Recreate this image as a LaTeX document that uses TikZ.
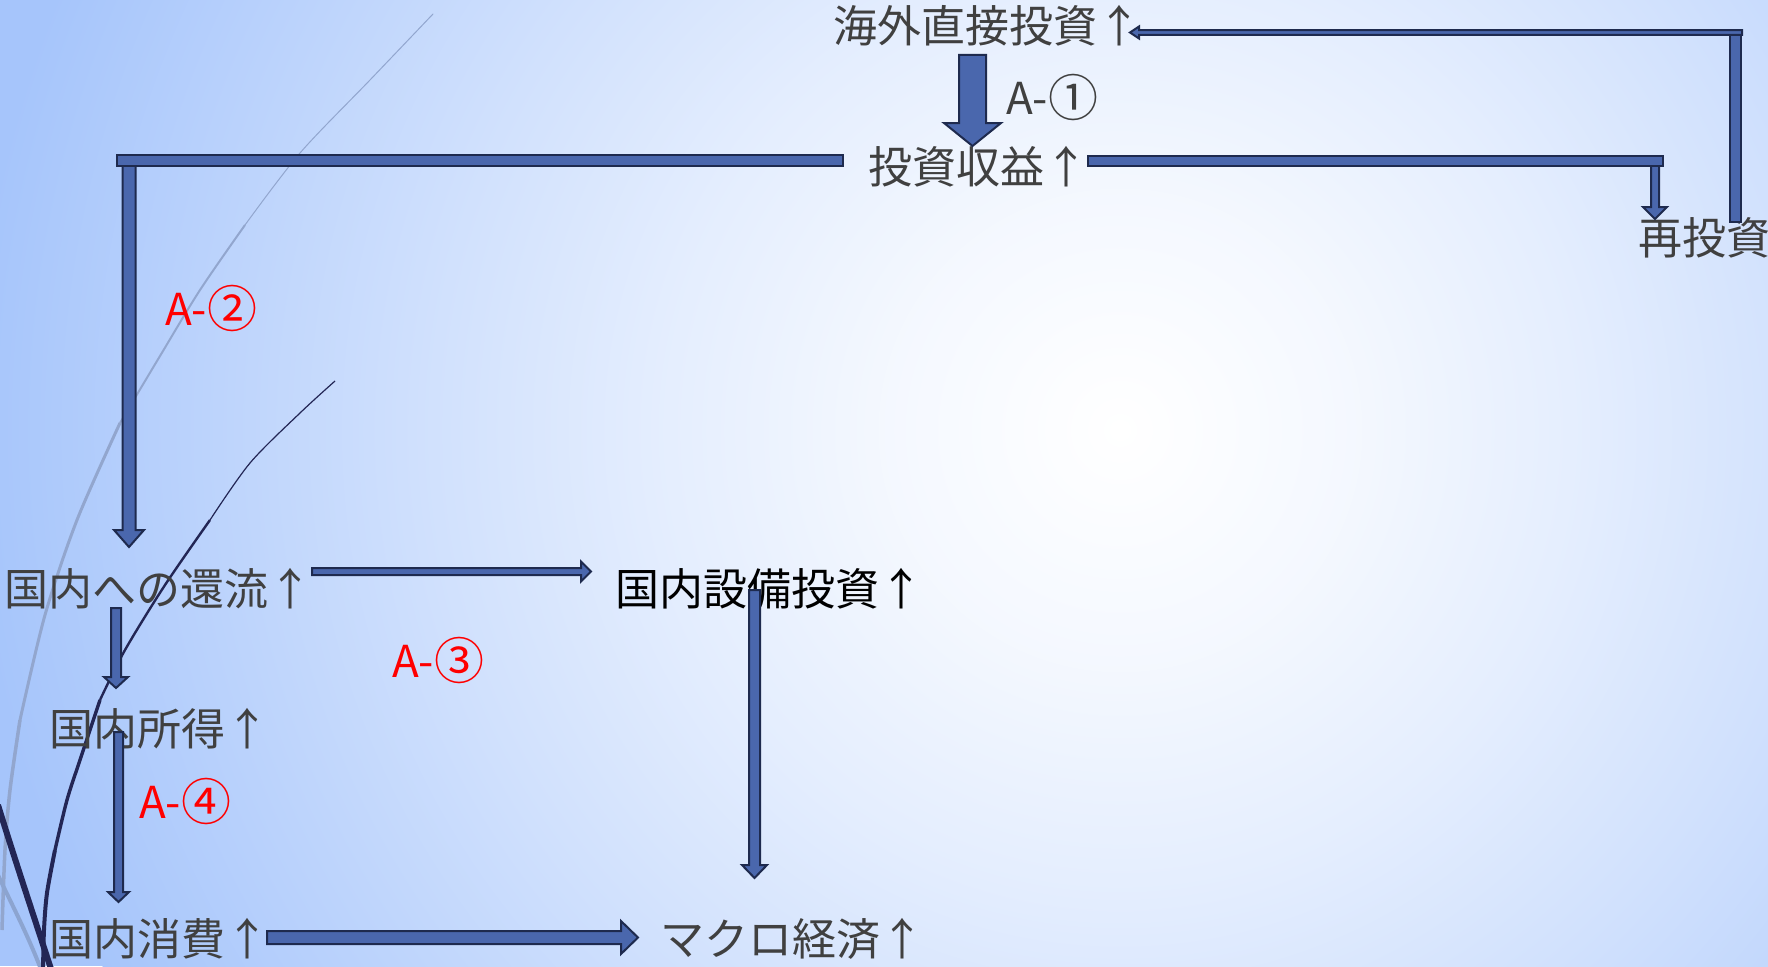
\documentclass[tikz,border=0pt]{standalone}
\usepackage{fontspec}
\newfontfamily\jpfont{Noto Sans CJK JP}
\usetikzlibrary{calc}
\definecolor{bgblue}{RGB}{166,197,251}
\definecolor{arrfill}{RGB}{74,103,173}
\definecolor{arrline}{RGB}{30,42,78}
\definecolor{txtgray}{RGB}{64,64,64}
\definecolor{navyline}{RGB}{35,38,85}
\definecolor{paleA}{RGB}{146,166,206}
\definecolor{paleB}{RGB}{140,164,208}
\pgfdeclareradialshading{bgrad}{\pgfpoint{0bp}{0bp}}{%
  color(0bp)=(white); color(5bp)=(bgblue!12); color(10bp)=(bgblue!30);
  color(15bp)=(bgblue!52); color(20bp)=(bgblue!76); color(25bp)=(bgblue);
  color(50bp)=(bgblue)}
\tikzset{
  blk/.style={fill=arrfill, draw=arrline, line width=2pt, line join=miter},
  txt/.style={font=\jpfont\fontsize{44}{44}\selectfont, text=txtgray, inner sep=0pt,
    anchor=west, text height=38pt, text depth=6pt},
  redlbl/.style={txt, text=red},
}
\newcommand\circd[1]{\raisebox{-2.5pt}{\fontsize{50}{50}\selectfont #1}}
% block arrow: [style]{from}{to}{shaft half}{head half}{head length}
\newcommand\blockarrow[6][]{%
  \path (#2); \pgfgetlastxy{\baX}{\baY}%
  \path (#3); \pgfgetlastxy{\bbX}{\bbY}%
  \pgfmathsetmacro\baAng{atan2(\bbY-\baY,\bbX-\baX)}%
  \pgfmathsetmacro\baLen{veclen(\bbX-\baX,\bbY-\baY)}%
  \begin{scope}[shift={(\baX,\baY)}, rotate=\baAng]
    \filldraw[blk,#1] (0pt,-#4pt) -- (\baLen pt-#6pt,-#4pt) -- (\baLen pt-#6pt,-#5pt)
      -- (\baLen pt,0pt) -- (\baLen pt-#6pt,#5pt) -- (\baLen pt-#6pt,#4pt) -- (0pt,#4pt) -- cycle;
  \end{scope}
}
% bar: {from}{to}{half}
\newcommand\blockbar[3]{%
  \path (#1); \pgfgetlastxy{\baX}{\baY}%
  \path (#2); \pgfgetlastxy{\bbX}{\bbY}%
  \pgfmathsetmacro\baAng{atan2(\bbY-\baY,\bbX-\baX)}%
  \pgfmathsetmacro\baLen{veclen(\bbX-\baX,\bbY-\baY)}%
  \begin{scope}[shift={(\baX,\baY)}, rotate=\baAng]
    \filldraw[blk] (0pt,-#3pt) rectangle (\baLen pt,#3pt);
  \end{scope}
}
\begin{document}
\begin{tikzpicture}[x=1pt,y=-1pt]
\useasboundingbox (0,0) rectangle (1768,966);
% background
\fill[bgblue] (0,0) rectangle (1768,966);
\begin{scope}
  \clip (0,0) rectangle (1768,966);
  \shade[shading=bgrad] (1120,430) circle (1150pt);
\end{scope}
% decorative curves
\draw[paleA, line width=1pt, line cap=round] plot[smooth] coordinates {(433,14) (370,80) (300,153) (245,225)};
\draw[paleA, line width=2pt] plot[smooth] coordinates {(245,225) (200,290) (160,356) (120,423)};
\draw[paleA, line width=3pt] plot[smooth] coordinates {(120,423) (77,520) (45,615) (20,720)};
\draw[paleA, line width=3.5pt] plot[smooth] coordinates {(20,720) (10,790) (5,850) (2,930)};
\draw[paleB, line width=4pt] (-2,875) .. controls (12,905) and (28,935) .. (42,972);
\draw[navyline, line width=1.2pt] plot[smooth] coordinates {(335,381) (300,413) (250,463) (210,520)};
\draw[navyline, line width=2.4pt] plot[smooth] coordinates {(210,520) (165,585) (125,650) (100,700)};
\draw[navyline, line width=3.4pt] plot[smooth] coordinates {(100,700) (80,760) (67,800) (55,850)};
\draw[navyline, line width=4pt] plot[smooth] coordinates {(55,850) (47,893) (44,930) (43,972)};
\draw[navyline, line width=6pt] (-2,805) .. controls (15,860) and (35,920) .. (52,972);
% texts
\node[txt] (n1) at (833,26) {海外直接投資↑};
\node[txt] (n2) at (868,167) {投資収益↑};
\node[txt] (n3) at (1638,238) {再投資};
\node[txt] (n4) at (4,589) {国内への還流↑};
\node[txt, text=black] (n5) at (615,589) {国内設備投資↑};
\node[txt] (n6) at (49,729) {国内所得↑};
\node[txt] (n7) at (49,939) {国内消費↑};
\node[txt] (n8) at (660,939) {マクロ経済↑};
\node[txt] (l1) at (1006,98) {A-\circd{①}};
\node[redlbl] (l2) at (165,309) {A-\circd{②}};
\node[redlbl] (l3) at (392,661) {A-\circd{③}};
\node[redlbl] (l4) at (139,802) {A-\circd{④}};
% connector points
\coordinate (a1s) at (972.5,55);   \coordinate (a1e) at (972.5,146);
\coordinate (a2h) at (843,160.5);  \coordinate (a2c) at (117,160.5);
\coordinate (a2s) at (129,162);    \coordinate (a2e) at (129,547);
\coordinate (a3h) at (1088,160.5); \coordinate (a3c) at (1663,160.5);
\coordinate (a3s) at (1655,162);   \coordinate (a3e) at (1655,219);
\coordinate (a4s) at (1735.5,222); \coordinate (a4c) at (1735.5,34);
\coordinate (a4h) at (1742,32.5);  \coordinate (a4e) at (1130,32.5);
\coordinate (a5s) at (116,608);    \coordinate (a5e) at (116,688);
\coordinate (a6s) at (312,571.5);  \coordinate (a6e) at (591,571.5);
\coordinate (a7s) at (754.5,590);  \coordinate (a7e) at (754.5,878);
\coordinate (a8s) at (118.5,732);  \coordinate (a8e) at (118.5,902);
\coordinate (a9s) at (267,937.5);  \coordinate (a9e) at (638,937.5);
% connectors
\blockarrow{a1s}{a1e}{13.5}{28.5}{23}        % n1 -> n2
\blockarrow{a2s}{a2e}{6.5}{15}{17}           % n2 -> n4
\blockbar{a2h}{a2c}{5.5}
\blockarrow{a3s}{a3e}{4}{12}{12}             % n2 -> n3
\blockbar{a3h}{a3c}{5}
\blockbar{a4s}{a4c}{5.5}                     % n3 -> n1
\blockarrow{a4h}{a4e}{2.4}{6}{9}
\blockarrow{a5s}{a5e}{5}{12}{11}             % n4 -> n6
\blockarrow{a6s}{a6e}{3.5}{10}{10}           % n4 -> n5
\blockarrow{a7s}{a7e}{5.5}{12.5}{13}         % n5 -> n8
\blockarrow{a8s}{a8e}{4.5}{10.5}{10}         % n6 -> n7
\blockarrow{a9s}{a9e}{6.5}{16.5}{17}         % n7 -> n8
\end{tikzpicture}
\end{document}
